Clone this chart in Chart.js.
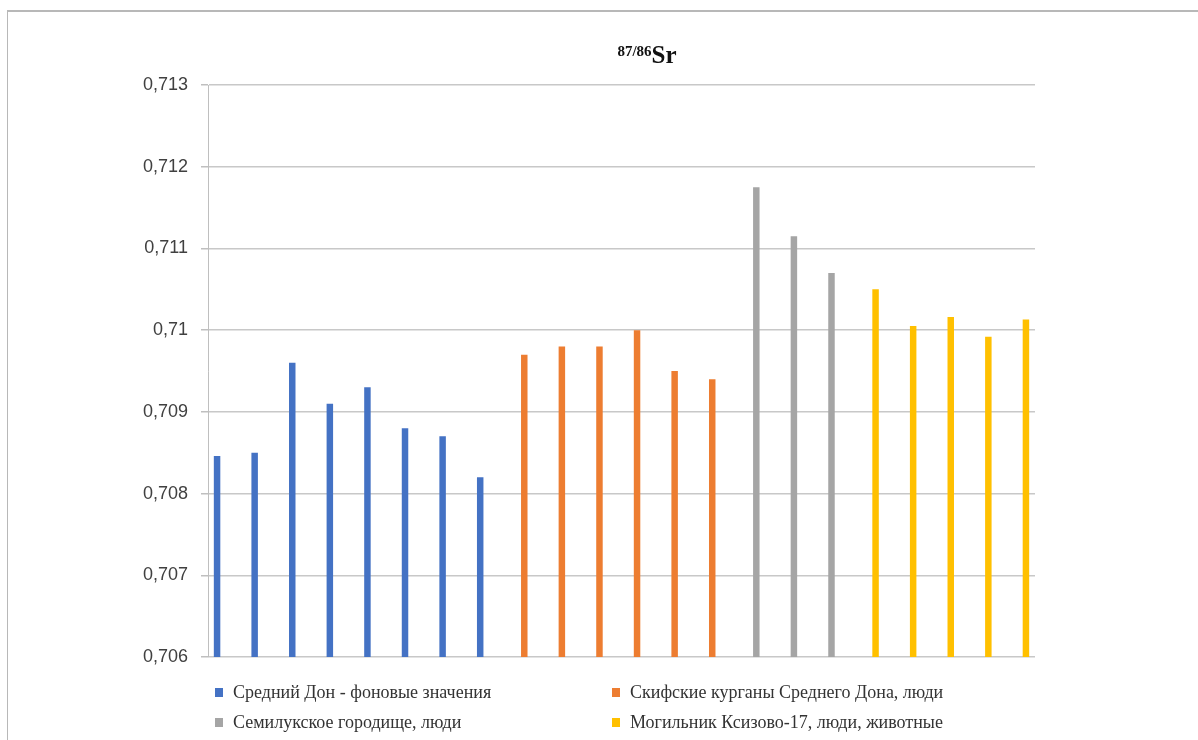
<!DOCTYPE html>
<html>
<head>
<meta charset="utf-8">
<script src="https://cdn.jsdelivr.net/npm/chart.js@4/dist/chart.umd.min.js"></script>
<style>
  html, body { margin: 0; padding: 0; background: #fff; overflow: hidden; }
  #wrap { position: relative; width: 1198px; height: 740px; overflow: hidden; }
  #frame { position: absolute; left: 7px; top: 10px; width: 1400px; height: 900px; border-top: 2px solid #b8b8b8; border-left: 1px solid #b8b8b8; }
  #c { position: absolute; left: 0; top: 0; }
  #title { position: absolute; left: 0; width: 1198px; top: 41px; text-align: center; padding-left: 96px; box-sizing: border-box;
           font-family: "Liberation Serif", "Times New Roman", serif; font-weight: bold; font-size: 25px; color: #111; }
  #title sup { font-size: 15px; vertical-align: 0; position: relative; top: -7px; }
  .leg { position: absolute; font-family: "Liberation Serif", "Times New Roman", serif; font-size: 18px; color: #333; white-space: nowrap; line-height: 22px; }
  .leg i { display: inline-block; width: 8px; height: 9px; margin-right: 10px; vertical-align: 1px; }
</style>
</head>
<body>
<div id="wrap">
  <div id="frame"></div>
  <canvas id="c" width="1198" height="740"></canvas>
  <div id="title"><sup>87/86</sup>Sr</div>
  <div id="legend"></div>
</div>
<script>
// ---- data ----
const seriesNames = [
  "Средний Дон - фоновые значения",
  "Скифские курганы Среднего Дона, люди",
  "Семилукское городище, люди",
  "Могильник Ксизово-17, люди, животные"
];
const donBackground = [0.70846, 0.7085, 0.7096, 0.7091, 0.7093, 0.7088, 0.7087, 0.7082];
const scythianKurgans = [0.7097, 0.7098, 0.7098, 0.7100, 0.7095, 0.7094];
const semilukiSettlement = [0.71175, 0.71115, 0.7107];
const ksizovoCemetery = [0.7105, 0.71005, 0.71016, 0.70992, 0.71013];
const yTicks = [0.706, 0.707, 0.708, 0.709, 0.71, 0.711, 0.712, 0.713];
const colors = ["#4472C4", "#ED7D31", "#A5A5A5", "#FFC000"];

// build category table: each series occupies its own run of categories
const groups = [donBackground, scythianKurgans, semilukiSettlement, ksizovoCemetery];
const total = groups.reduce((s, g) => s + g.length, 0);
const labels = new Array(total).fill("");
const datasets = groups.map((g, gi) => {
  const data = new Array(total).fill(null);
  let offset = 0;
  for (let k = 0; k < gi; k++) offset += groups[k].length;
  g.forEach((v, i) => { data[offset + i] = v; });
  return {
    label: seriesNames[gi],
    data,
    backgroundColor: colors[gi],
    borderWidth: 0,
    categoryPercentage: 0.69,
    barPercentage: 1.0
  };
});

// legend (HTML, real text)
const legPos = [[215, 681], [612, 681], [215, 711], [612, 711]];
const legEl = document.getElementById('legend');
seriesNames.forEach((n, i) => {
  const d = document.createElement('div');
  d.className = 'leg';
  d.style.left = legPos[i][0] + 'px';
  d.style.top = legPos[i][1] + 'px';
  d.innerHTML = '<i style="background:' + colors[i] + '"></i>' + n;
  legEl.appendChild(d);
});

const fmt = v => Number(v.toFixed(4)).toString().replace('.', ',');

new Chart(document.getElementById('c'), {
  type: 'bar',
  data: { labels, datasets },
  options: {
    responsive: false,
    animation: false,
    events: [],
    layout: { padding: { left: 0, right: 163, top: 85, bottom: 83 } },
    plugins: { legend: { display: false }, title: { display: false }, tooltip: { enabled: false } },
    scales: {
      x: {
        display: false,
        grid: { display: false }
      },
      y: {
        min: yTicks[0],
        max: yTicks[yTicks.length - 1],
        afterBuildTicks: (axis) => { axis.ticks = yTicks.map(v => ({ value: v })); },
        afterFit: (axis) => { axis.width = 208; },
        border: { display: true, color: '#bfbfbf', width: 1 },
        grid: { color: '#c8c8c8', lineWidth: 1.5, tickLength: 7, drawTicks: true, tickColor: '#bfbfbf' },
        ticks: {
          padding: 13,
          color: '#404040',
          font: { family: 'Liberation Sans, Arial, sans-serif', size: 18 },
          callback: (v) => fmt(v)
        }
      }
    }
  }
});
</script>
</body>
</html>
